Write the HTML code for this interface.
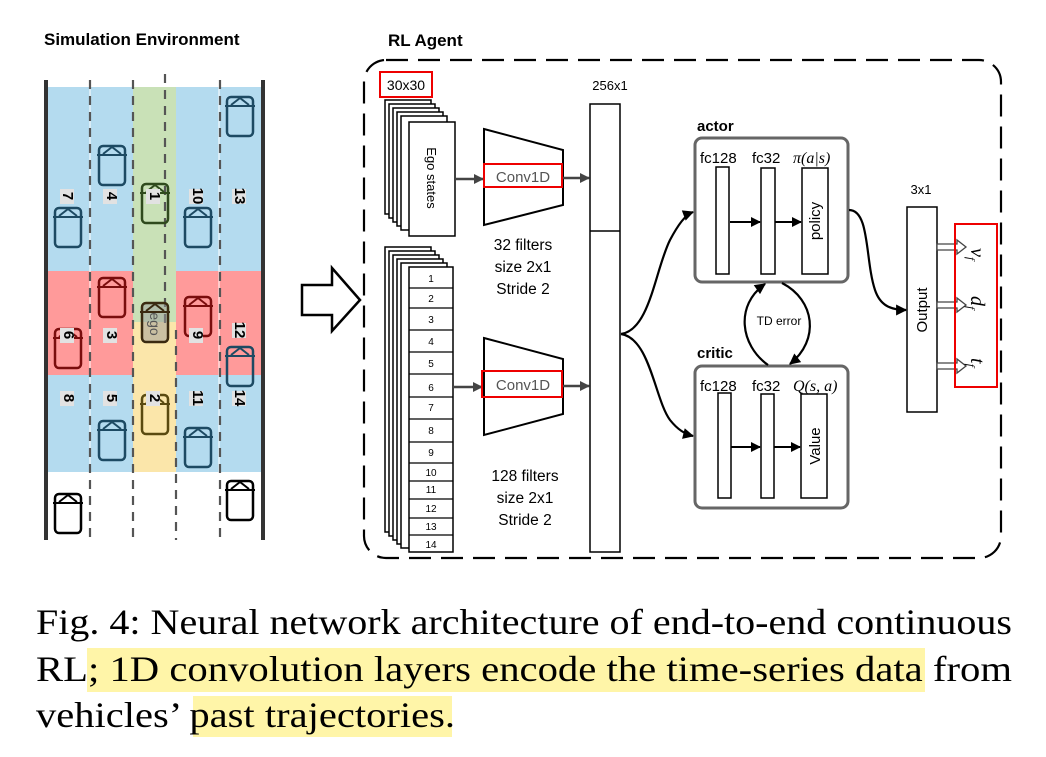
<!DOCTYPE html>
<html><head><meta charset="utf-8"><style>
html,body{margin:0;padding:0;background:#fff;}
svg{display:block;}
.s{font-family:"Liberation Sans",sans-serif;}
.m{font-family:"Liberation Serif",serif;font-style:italic;}
</style></head><body>
<svg width="1046" height="757" viewBox="0 0 1046 757" xmlns="http://www.w3.org/2000/svg">
<defs>
<marker id="a" viewBox="0 0 10 10" refX="9" refY="5" markerWidth="13" markerHeight="10" markerUnits="userSpaceOnUse" orient="auto"><path d="M0,0L10,5L0,10z" fill="#444"/></marker>
<marker id="c" viewBox="0 0 10 10" refX="9" refY="5" markerWidth="16" markerHeight="10" markerUnits="userSpaceOnUse" orient="auto"><path d="M0,0L10,5L0,10z" fill="#000"/></marker>
<marker id="b" viewBox="0 0 10 10" refX="9" refY="5" markerWidth="14" markerHeight="11" markerUnits="userSpaceOnUse" orient="auto"><path d="M0,0L10,5L0,10z" fill="#000"/></marker>
<g id="car"><rect x="-13" y="0" width="26" height="39" rx="4" fill="none" stroke-width="2.5"/><path d="M-15,9H15M-9,8L0,1L9,8" fill="none" stroke-width="2"/></g>
</defs>

<text x="44" y="45" class="s" font-size="17" font-weight="bold">Simulation Environment</text>
<text x="388" y="46" class="s" font-size="17" font-weight="bold">RL Agent</text>

<rect x="46" y="87" width="216" height="385" fill="#b4dbef"/>
<rect x="133" y="87" width="43" height="235" fill="#c9e1b7"/>
<rect x="133" y="322" width="43" height="150" fill="#fbe6aa"/>
<rect x="46" y="271" width="87" height="104" fill="#ff9a9a"/>
<rect x="176" y="271" width="86" height="104" fill="#ff9a9a"/>
<g stroke="#fff" stroke-width="1"><line x1="90" y1="87" x2="90" y2="472"/><line x1="219" y1="87" x2="219" y2="472"/></g>
<g stroke="#555" stroke-width="2.2" stroke-dasharray="9,7">
<line x1="90" y1="80" x2="90" y2="540"/><line x1="133" y1="80" x2="133" y2="540"/>
<line x1="165" y1="74" x2="165" y2="330"/><line x1="176" y1="330" x2="176" y2="540"/>
<line x1="220" y1="80" x2="220" y2="540"/></g>
<g stroke="#333" stroke-width="4"><line x1="46" y1="80" x2="46" y2="540"/><line x1="263" y1="80" x2="263" y2="540"/></g>

<g stroke="#1d4a63">
<use href="#car" x="68" y="208"/><use href="#car" x="112" y="146"/><use href="#car" x="198" y="208"/><use href="#car" x="240" y="97"/>
<use href="#car" x="112" y="421"/><use href="#car" x="198" y="428"/><use href="#car" x="240" y="347"/></g>
<g stroke="#2f4a1d"><use href="#car" x="155" y="184"/></g>
<g stroke="#7a0d0d"><use href="#car" x="68" y="329"/><use href="#car" x="112" y="278"/><use href="#car" x="198" y="297"/></g>
<rect x="142" y="303" width="26" height="40" rx="4" fill="#999" fill-opacity="0.5"/>
<g stroke="#3a2a10"><use href="#car" x="155" y="303"/></g>
<g stroke="#5a4a10"><use href="#car" x="155" y="395"/></g>
<g stroke="#000"><use href="#car" x="68" y="494"/><use href="#car" x="240" y="481"/></g>

<g class="s" font-size="15" font-weight="bold" text-anchor="middle">
<g fill="#e2e2e2"><rect x="60" y="189" width="14" height="15"/><rect x="103" y="189" width="14" height="15"/><rect x="146" y="189" width="14" height="15"/><rect x="189" y="189" width="14" height="15"/><rect x="232" y="189" width="14" height="15"/>
<rect x="60" y="328" width="14" height="15"/><rect x="103" y="328" width="14" height="15"/><rect x="189" y="328" width="14" height="15"/><rect x="232" y="323" width="14" height="15"/>
<rect x="60" y="391" width="14" height="15"/><rect x="103" y="391" width="14" height="15"/><rect x="146" y="391" width="14" height="15"/><rect x="189" y="391" width="14" height="15"/><rect x="232" y="391" width="14" height="15"/></g>
<text transform="translate(63,196) rotate(90)">7</text>
<text transform="translate(107,196) rotate(90)">4</text>
<text transform="translate(150,196) rotate(90)">1</text>
<text transform="translate(193,196) rotate(90)">10</text>
<text transform="translate(235,196) rotate(90)">13</text>
<text transform="translate(64,335) rotate(90)">6</text>
<text transform="translate(107,335) rotate(90)">3</text>
<text transform="translate(193,335) rotate(90)">9</text>
<text transform="translate(235,330) rotate(90)">12</text>
<text transform="translate(64,398) rotate(90)">8</text>
<text transform="translate(107,398) rotate(90)">5</text>
<text transform="translate(150,398) rotate(90)">2</text>
<text transform="translate(193,398) rotate(90)">11</text>
<text transform="translate(235,398) rotate(90)">14</text>
<text transform="translate(150,324) rotate(90)" font-weight="normal" fill="#555" font-size="14">ego</text>
</g>

<path d="M302,285H332V268L360,300L332,331V315H302Z" fill="#fff" stroke="#000" stroke-width="2.5"/>

<rect x="364" y="60" width="637" height="498" rx="22" fill="none" stroke="#000" stroke-width="2.2" stroke-dasharray="22,10"/>

<rect x="380" y="72" width="52" height="25" fill="none" stroke="#e00" stroke-width="2"/>
<text x="406" y="90" class="s" font-size="14" text-anchor="middle">30x30</text>

<g fill="#fff" stroke="#000" stroke-width="1.5">
<rect x="385" y="100" width="46" height="114"/><rect x="389" y="104" width="46" height="114"/><rect x="393" y="108" width="46" height="114"/><rect x="397" y="112" width="46" height="114"/><rect x="401" y="116" width="46" height="114"/>
<rect x="409" y="122" width="46" height="114"/></g>
<text transform="translate(427,178) rotate(90)" class="s" font-size="13" text-anchor="middle">Ego states</text>
<line x1="455" y1="179" x2="483" y2="179" stroke="#444" stroke-width="2.5" marker-end="url(#a)"/>
<path d="M484,129L563,150V205L484,225Z" fill="#fff" stroke="#000" stroke-width="2"/>
<rect x="484" y="164" width="78" height="23" fill="none" stroke="#e00" stroke-width="2"/>
<text x="523" y="182" class="s" font-size="15" fill="#555" text-anchor="middle">Conv1D</text>
<line x1="563" y1="178" x2="589" y2="178" stroke="#444" stroke-width="2.5" marker-end="url(#a)"/>
<g class="s" font-size="15.5" text-anchor="middle"><text x="523" y="250">32 filters</text><text x="523" y="272">size 2x1</text><text x="523" y="294">Stride 2</text>
<text x="525" y="481">128 filters</text><text x="525" y="503">size 2x1</text><text x="525" y="525">Stride 2</text></g>

<g fill="#fff" stroke="#000" stroke-width="1.5">
<rect x="385" y="247" width="46" height="285"/><rect x="389" y="251" width="46" height="285"/><rect x="393" y="255" width="46" height="285"/><rect x="397" y="259" width="46" height="285"/><rect x="401" y="263" width="46" height="285"/>
<rect x="409" y="267" width="44" height="285"/></g>
<g stroke="#000" stroke-width="1.2"><line x1="409" y1="288" x2="453" y2="288"/><line x1="409" y1="308" x2="453" y2="308"/><line x1="409" y1="330" x2="453" y2="330"/><line x1="409" y1="352" x2="453" y2="352"/><line x1="409" y1="374" x2="453" y2="374"/><line x1="409" y1="397" x2="453" y2="397"/><line x1="409" y1="419" x2="453" y2="419"/><line x1="409" y1="442" x2="453" y2="442"/><line x1="409" y1="463" x2="453" y2="463"/><line x1="409" y1="481" x2="453" y2="481"/><line x1="409" y1="499" x2="453" y2="499"/><line x1="409" y1="518" x2="453" y2="518"/><line x1="409" y1="535" x2="453" y2="535"/></g>
<g class="s" font-size="10" text-anchor="middle"><text x="431" y="282">1</text><text x="431" y="302">2</text><text x="431" y="323">3</text><text x="431" y="345">4</text><text x="431" y="367">5</text><text x="431" y="391">6</text><text x="431" y="411">7</text><text x="431" y="434">8</text><text x="431" y="456">9</text><text x="431" y="476">10</text><text x="431" y="493">11</text><text x="431" y="512">12</text><text x="431" y="530">13</text><text x="431" y="548">14</text></g>
<line x1="453" y1="387" x2="482" y2="387" stroke="#444" stroke-width="2.5" marker-end="url(#a)"/>
<path d="M484,338L563,359V414L484,435Z" fill="#fff" stroke="#000" stroke-width="2"/>
<rect x="482" y="371" width="80" height="26" fill="none" stroke="#e00" stroke-width="2"/>
<text x="523" y="390" class="s" font-size="15" fill="#555" text-anchor="middle">Conv1D</text>
<line x1="563" y1="386" x2="589" y2="386" stroke="#444" stroke-width="2.5" marker-end="url(#a)"/>

<text x="610" y="90" class="s" font-size="13" text-anchor="middle">256x1</text>
<rect x="590" y="104" width="30" height="448" fill="#fff" stroke="#000" stroke-width="1.5"/>
<line x1="590" y1="231" x2="620" y2="231" stroke="#000" stroke-width="1.5"/>
<g fill="none" stroke="#000" stroke-width="2.2">
<path d="M621,334C650,330 655,270 670,240C678,225 685,215 693,212" marker-end="url(#b)"/>
<path d="M621,334C650,338 655,400 670,420C678,430 685,434 693,436" marker-end="url(#b)"/>
</g>

<text x="697" y="131" class="s" font-size="15" font-weight="bold">actor</text>
<rect x="695" y="138" width="153" height="144" rx="7" fill="#fff" stroke="#666" stroke-width="3"/>
<text x="697" y="358" class="s" font-size="15" font-weight="bold">critic</text>
<rect x="695" y="366" width="153" height="142" rx="7" fill="#fff" stroke="#666" stroke-width="3"/>
<g class="s" font-size="15"><text x="700" y="163">fc128</text><text x="752" y="163">fc32</text><text x="700" y="391">fc128</text><text x="752" y="391">fc32</text></g>
<text x="793" y="163" class="m" font-size="16">π(a|s)</text>
<text x="793" y="391" class="m" font-size="16">Q(s, a)</text>
<g fill="#fff" stroke="#000" stroke-width="1.5">
<rect x="716" y="167" width="13" height="107"/><rect x="761" y="168" width="14" height="106"/><rect x="802" y="168" width="26" height="106"/>
<rect x="718" y="393" width="13" height="105"/><rect x="761" y="394" width="13" height="104"/><rect x="801" y="394" width="26" height="104"/></g>
<g stroke="#000" stroke-width="2"><line x1="730" y1="222" x2="760" y2="222" marker-end="url(#c)"/><line x1="775" y1="222" x2="801" y2="222" marker-end="url(#c)"/>
<line x1="731" y1="447" x2="760" y2="447" marker-end="url(#c)"/><line x1="774" y1="447" x2="800" y2="447" marker-end="url(#c)"/></g>
<text transform="translate(820,221) rotate(-90)" class="s" font-size="15" text-anchor="middle">policy</text>
<text transform="translate(820,446) rotate(-90)" class="s" font-size="15" text-anchor="middle">Value</text>

<text x="779" y="325" class="s" font-size="12" text-anchor="middle">TD error</text>
<g fill="none" stroke="#000" stroke-width="2.2">
<path d="M768,365C740,345 735,305 765,284" marker-end="url(#b)"/>
<path d="M782,283C815,300 820,340 790,364" marker-end="url(#b)"/>
<path d="M849,210C870,210 865,260 875,290C880,305 890,310 906,310" marker-end="url(#b)"/>
</g>

<text x="921" y="194" class="s" font-size="13" text-anchor="middle">3x1</text>
<rect x="907" y="207" width="30" height="205" fill="#fff" stroke="#000" stroke-width="1.5"/>
<text transform="translate(927,310) rotate(-90)" class="s" font-size="15" text-anchor="middle">Output</text>
<g fill="#fff" stroke="#444" stroke-width="1.3">
<path d="M937,244H957V240L966,247L957,254V250H937Z"/>
<path d="M937,302H957V298L966,305L957,312V308H937Z"/>
<path d="M937,363H957V359L966,366L957,373V369H937Z"/></g>
<rect x="955" y="224" width="42" height="163" fill="none" stroke="#e00" stroke-width="2"/>
<g class="m" font-size="20"><text transform="translate(971,248) rotate(90)">v<tspan font-size="12" dy="4">f</tspan></text>
<text transform="translate(971,296) rotate(90)">d<tspan font-size="12" dy="4">f</tspan></text>
<text transform="translate(971,358) rotate(90)">t<tspan font-size="12" dy="4">f</tspan></text></g>

<rect x="87" y="648" width="838" height="44" fill="#fff5a8"/>
<rect x="193" y="696" width="259" height="41" fill="#fff5a8"/>
<g font-family="'Liberation Serif',serif" font-size="36">
<text x="36" y="634" textLength="976" lengthAdjust="spacingAndGlyphs">Fig. 4: Neural network architecture of end-to-end continuous</text>
<text x="36" y="681" textLength="976" lengthAdjust="spacingAndGlyphs">RL; 1D convolution layers encode the time-series data from</text>
<text x="36" y="727" textLength="419" lengthAdjust="spacingAndGlyphs">vehicles’ past trajectories.</text>
</g>
</svg>
</body></html>
